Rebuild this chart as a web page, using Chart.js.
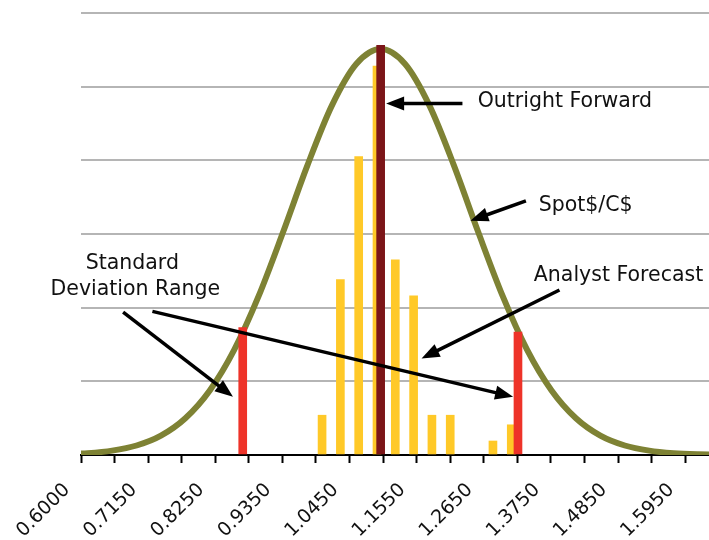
<!DOCTYPE html>
<html>
<head>
<meta charset="utf-8">
<title>Spot $/C$ distribution</title>
<script src="https://cdn.jsdelivr.net/npm/chart.js@4/dist/chart.umd.min.js"></script>
<style>
  html, body { margin: 0; padding: 0; background: #ffffff; }
  #wrap { width: 709px; height: 540px; }
</style>
</head>
<body>
<div id="wrap"><canvas id="chart" width="709" height="540"></canvas></div>
<script>
// Axis tick labels (every second tick carries a label)
const TICK_LABELS = ['0.6000', '0.7150', '0.8250', '0.9350', '1.0450', '1.1550', '1.2650', '1.3750', '1.4850', '1.5950'];

// Spot $/C$ distribution curve
const CURVE_X = [0.576, 0.616, 0.656, 0.696, 0.736, 0.776, 0.816, 0.856, 0.896, 0.936, 0.976, 1.016, 1.056, 1.096,
                 1.136, 1.176, 1.216, 1.256, 1.296, 1.336, 1.376, 1.416, 1.456, 1.496, 1.536, 1.576, 1.616, 1.656];
const CURVE_Y = [0.010, 0.025, 0.059, 0.129, 0.263, 0.499, 0.876, 1.427, 2.156, 3.023, 3.931, 4.742, 5.307, 5.510,
                 5.307, 4.742, 3.931, 3.023, 2.156, 1.427, 0.876, 0.499, 0.263, 0.129, 0.059, 0.025, 0.010, 0.004];

// Analyst forecasts
const FORECAST_X = [1.00, 1.03, 1.06, 1.09, 1.12, 1.15, 1.18, 1.21, 1.28, 1.31];
const FORECAST_Y = [0.54, 2.38, 4.05, 5.28, 2.65, 2.16, 0.54, 0.54, 0.19, 0.41];

// Standard deviation range
const SD_X = [0.870, 1.321];
const SD_Y = [1.73, 1.67];

// Outright forward
const FORWARD_X = [1.096];
const FORWARD_Y = [5.56];

// Callouts: text anchors and arrows in axis units
const CALLOUT_TEXT = [
  { text: 'Outright Forward', x: 1.255, y: 4.79, align: 'left' },
  { text: 'Spot$/C$', x: 1.355, y: 3.38, align: 'left' },
  { text: 'Analyst Forecast', x: 1.347, y: 2.43, align: 'left' },
  { text: 'Standard', x: 0.689, y: 2.60, align: 'center' },
  { text: 'Deviation Range', x: 0.694, y: 2.25, align: 'center' }
];
const CALLOUT_ARROWS = [
  { from: [1.230, 4.77], to: [1.105, 4.77] },
  { from: [1.334, 3.45], to: [1.243, 3.18] },
  { from: [1.389, 2.24], to: [1.163, 1.31] },
  { from: [0.674, 1.94], to: [0.854, 0.79] },
  { from: [0.722, 1.95], to: [1.313, 0.79] }
];

const toPoints = (xs, ys) => xs.map((x, i) => ({ x: x, y: ys[i] }));

function drawArrow(ctx, x1, y1, x2, y2) {
  const ang = Math.atan2(y2 - y1, x2 - x1);
  const len = 18, half = 7;
  const c = Math.cos(ang), s = Math.sin(ang);
  const bx = x2 - len * c, by = y2 - len * s;
  ctx.beginPath();
  ctx.moveTo(x1, y1);
  ctx.lineTo(bx + c, by + s);
  ctx.lineWidth = 3.5;
  ctx.strokeStyle = '#000000';
  ctx.lineCap = 'butt';
  ctx.stroke();
  ctx.beginPath();
  ctx.moveTo(x2, y2);
  ctx.lineTo(bx - half * s, by + half * c);
  ctx.lineTo(bx + half * s, by - half * c);
  ctx.closePath();
  ctx.fillStyle = '#000000';
  ctx.fill();
}

const calloutPlugin = {
  id: 'callouts',
  afterDatasetsDraw(chart) {
    const { ctx, scales } = chart;
    const xs = scales.x, ys = scales.y;
    ctx.save();
    CALLOUT_ARROWS.forEach(a => {
      drawArrow(ctx,
        xs.getPixelForValue(a.from[0]), ys.getPixelForValue(a.from[1]),
        xs.getPixelForValue(a.to[0]), ys.getPixelForValue(a.to[1]));
    });
    ctx.font = '20.5px "DejaVu Sans", Verdana, sans-serif';
    ctx.fillStyle = '#111111';
    ctx.textBaseline = 'middle';
    CALLOUT_TEXT.forEach(t => {
      ctx.textAlign = t.align;
      ctx.fillText(t.text, xs.getPixelForValue(t.x), ys.getPixelForValue(t.y));
    });
    ctx.restore();
  }
};

const whiteBg = {
  id: 'whiteBg',
  beforeDraw(chart) {
    const ctx = chart.ctx;
    ctx.save();
    ctx.fillStyle = '#ffffff';
    ctx.fillRect(0, 0, chart.width, chart.height);
    ctx.restore();
  }
};

new Chart(document.getElementById('chart'), {
  type: 'bar',
  data: {
    datasets: [
      {
        type: 'bar', label: 'Outright Forward',
        data: toPoints(FORWARD_X, FORWARD_Y),
        backgroundColor: '#7b1518', barThickness: 8, grouped: false, order: 0
      },
      {
        type: 'bar', label: 'Standard Deviation Range',
        data: toPoints(SD_X, SD_Y),
        backgroundColor: '#ee3329', barThickness: 8, grouped: false, order: 1
      },
      {
        type: 'bar', label: 'Analyst Forecast',
        data: toPoints(FORECAST_X, FORECAST_Y),
        backgroundColor: '#ffc928', barThickness: 8, grouped: false, order: 2
      },
      {
        type: 'line', label: 'Spot$/C$',
        data: toPoints(CURVE_X, CURVE_Y),
        borderColor: '#7e8234', borderWidth: 6, pointRadius: 0,
        cubicInterpolationMode: 'monotone', fill: false, order: 3
      }
    ]
  },
  options: {
    responsive: false,
    animation: false,
    devicePixelRatio: 1,
    layout: { padding: { top: 13, left: 0, right: 0, bottom: 0 } },
    plugins: { legend: { display: false }, tooltip: { enabled: false } },
    scales: {
      x: {
        type: 'linear',
        min: 0.605,
        max: 1.634,
        offset: false,
        afterBuildTicks(scale) {
          const ticks = [];
          for (let i = 0; i < TICK_LABELS.length * 2 - 1; i++) {
            ticks.push({ value: 0.605 + i * 0.055 });
          }
          scale.ticks = ticks;
        },
        afterFit(scale) {
          scale.height = 85;
          scale.paddingLeft = 0;
          scale.paddingRight = 0;
        },
        grid: {
          display: true, offset: false, drawOnChartArea: false, drawTicks: true,
          tickLength: 8, tickColor: '#000000', tickWidth: 2
        },
        border: { display: true, color: '#000000', width: 2 },
        ticks: {
          autoSkip: false,
          minRotation: 45,
          maxRotation: 45,
          labelOffset: -14,
          padding: 16,
          color: '#111111',
          font: { family: '"DejaVu Sans", Verdana, sans-serif', size: 19 },
          callback(value, index) {
            return index % 2 === 0 ? TICK_LABELS[index / 2] : '';
          }
        }
      },
      y: {
        min: 0,
        max: 6,
        afterFit(scale) { scale.width = 81; },
        grid: { color: '#b5b5b5', lineWidth: 2, drawTicks: false },
        border: { display: false },
        ticks: { display: false, stepSize: 1 }
      }
    }
  },
  plugins: [whiteBg, calloutPlugin]
});
</script>
</body>
</html>
